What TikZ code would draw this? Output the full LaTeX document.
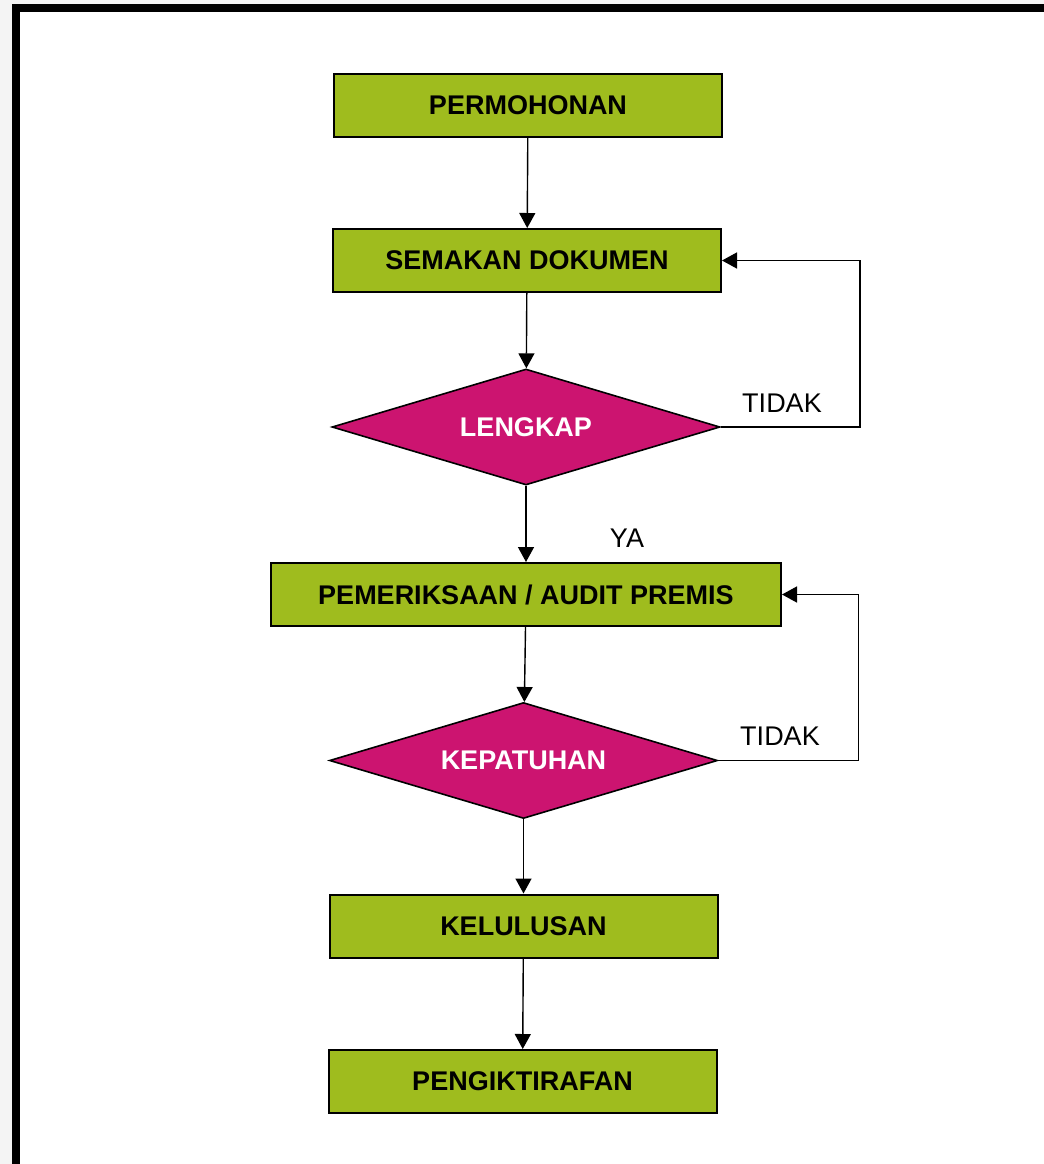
\documentclass[tikz,border=0pt]{standalone}
\usepackage{fontspec}
\setmainfont{Liberation Sans}
\usetikzlibrary{shapes.geometric,arrows.meta}

\definecolor{boxgreen}{HTML}{9FBC1E}
\definecolor{decpink}{HTML}{CC1470}
\definecolor{pagegrey}{HTML}{F4F4F4}

\begin{document}
\begin{tikzpicture}[x=0.5pt,y=-0.5pt,
		stepbox/.style={draw=black,line width=1pt,fill=boxgreen,rectangle,inner sep=0pt,
			minimum width=194pt,minimum height=31.5pt,font=\fontsize{13.5}{16}\selectfont\bfseries},
		decision/.style={draw=black,line width=0.8pt,fill=decpink,diamond,aspect=3.35,inner sep=0pt,
			minimum width=194pt,minimum height=58pt,text=white,font=\fontsize{13.5}{16}\selectfont\bfseries},
		arr/.style={line width=0.7pt,-{Triangle[width=8pt,length=7.5pt]}},
		answer/.style={font=\fontsize{13.5}{16}\selectfont}]
					%\draw[help lines] (0,0) grid[step=50] (1044,1164);
					%FRAME
					\useasboundingbox (0,0) rectangle (1044,1164);
					\fill[pagegrey] (0,0) rectangle (1044,1164);
					\fill[white] (20,12) rectangle (1044,1164);
					\fill[black] (12,4) rectangle (1044,12);
					\fill[black] (12,4) rectangle (20,1164);
					
					%STEPS
					\node[stepbox] (permohonan) at (528,105) {PERMOHONAN};
					\node[stepbox] (semakan) at (527,260.5) {SEMAKAN DOKUMEN};
					\node[decision] (lengkap) at (526,427) {LENGKAP};
					\node[stepbox,minimum width=255pt] (periksa) at (526,594.5) {PEMERIKSAAN / AUDIT PREMIS};
					\node[decision] (patuh) at (523.5,760.5) {KEPATUHAN};
					\node[stepbox] (lulus) at (523.5,926) {KELULUSAN};
					\node[stepbox] (iktiraf) at (522.5,1081.5) {PENGIKTIRAFAN};
					
					%FLOW
					\draw[arr] (permohonan) -- (semakan);
					\draw[arr] (semakan) -- (lengkap);
					\draw[arr] (lengkap) -- (periksa);
					\draw[arr] (periksa) -- (patuh);
					\draw[arr] (patuh) -- (lulus);
					\draw[arr] (lulus) -- (iktiraf);
					
					%LOOPS BACK
					\draw[arr] (lengkap.east) -- ++(139,0) |- (semakan.east);
					\draw[arr] (patuh.east) -- ++(140,0) |- (periksa.east);
					
					\node[answer] (tidaka) at (782,403) {TIDAK};
					\node[answer] (ya) at (627,538) {YA};
					\node[answer] (tidakb) at (780,736) {TIDAK};
					
				  \end{tikzpicture}
\end{document}
